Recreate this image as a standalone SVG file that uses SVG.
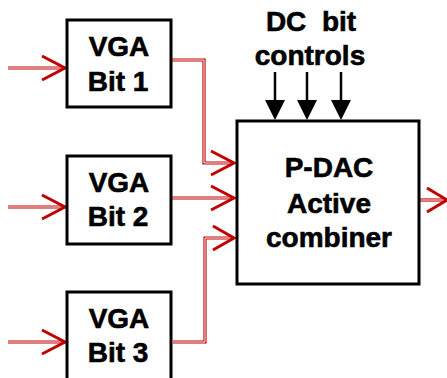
<svg xmlns="http://www.w3.org/2000/svg" width="447" height="378" viewBox="0 0 447 378">
<style>
.box{fill:#fff;stroke:#000;stroke-width:3}
.t{font-family:"Liberation Sans",Arial,sans-serif;font-weight:bold;font-size:28px;fill:#000;stroke:#000;stroke-width:0.6;text-anchor:middle}
.w{fill:none;stroke:#c00000;stroke-width:3.2}
.wi{fill:none;stroke:#fff;stroke-width:1}
.ah{fill:none;stroke:#c00000;stroke-width:3}
.k{stroke:#000;stroke-width:2.5}
</style>
<rect width="447" height="378" fill="#fff"/>
<g id="connectors">
<g id="wires">
<path class="w" d="M8 68H65"/>
<path class="w" d="M8 207H65"/>
<path class="w" d="M8 342H65"/>
<path class="w" d="M171 60H204V163H234"/>
<path class="w" d="M165 198H234"/>
<path class="w" d="M173 342H205V238H234"/>
<path class="w" d="M419 200H445"/>
<path class="wi" d="M8 68H62"/>
<path class="wi" d="M8 207H62"/>
<path class="wi" d="M8 342H62"/>
<path class="wi" d="M171 60H204V163H231"/>
<path class="wi" d="M165 198H231"/>
<path class="wi" d="M173 342H205V238H231"/>
<path class="wi" d="M419 200H445"/>
</g>
<g id="heads">
<path class="ah" d="M42 56L65 68L42 80"/>
<path class="ah" d="M42 195L65 207L42 219"/>
<path class="ah" d="M42 330L65 342L42 354"/>
<path class="ah" d="M211 151L234 163L211 175"/>
<path class="ah" d="M211 186L234 198L211 210"/>
<path class="ah" d="M213 226L234 238L213 250"/>
<path class="ah" d="M427 188L447 200L427 212"/>
</g>
<g id="dc">
<path class="k" d="M275 72V102M307 72V102M341 72V102"/>
<path d="M265 100H285L275 120Z M297 100H317L307 120Z M331 100H351L341 120Z" fill="#000"/>
</g>
</g>
<g id="vga1"><rect class="box" x="67" y="20" width="104" height="87"/><text class="t" x="119" y="56">VGA</text><text class="t" x="118" y="91">Bit 1</text></g>
<g id="vga2"><rect class="box" x="67" y="156" width="104" height="88"/><text class="t" x="119" y="192">VGA</text><text class="t" x="118" y="226">Bit 2</text></g>
<g id="vga3"><rect class="box" x="67" y="292" width="104" height="100"/><text class="t" x="119" y="328">VGA</text><text class="t" x="118" y="362">Bit 3</text></g>
<g id="pdac"><rect class="box" x="237" y="121" width="182" height="163"/><text class="t" x="329" y="177">P-DAC</text><text class="t" x="329" y="213">Active</text><text class="t" x="329" y="247">combiner</text></g>
<g id="label"><text class="t" x="311" y="31" xml:space="preserve">DC  bit</text><text class="t" x="310" y="65">controls</text></g>
</svg>
